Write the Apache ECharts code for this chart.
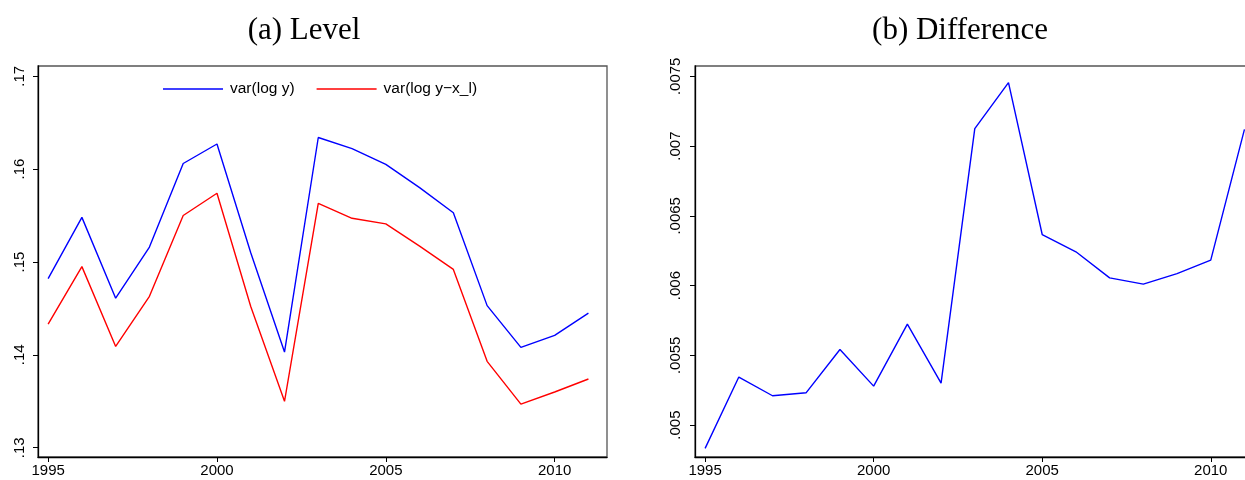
<!DOCTYPE html>
<html>
<head>
<meta charset="utf-8">
<script src="https://cdn.jsdelivr.net/npm/echarts@6/dist/echarts.min.js"></script>
<style>
html,body{margin:0;padding:0;overflow:hidden;background:#fff;}
#chart{width:1270px;height:480px;}
</style>
</head>
<body>
<div id="chart"></div>
<script>
// Data
const years = [1995,1996,1997,1998,1999,2000,2001,2002,2003,2004,2005,2006,2007,2008,2009,2010,2011];
const varLogY = [0.1482,0.1548,0.1461,0.1516,0.1606,0.1627,0.1510,0.1403,0.1634,0.1622,0.1605,0.1580,0.1553,0.1453,0.1408,0.1421,0.1445];
const varLogYxl = [0.1433,0.1495,0.1409,0.1463,0.1550,0.1574,0.1452,0.1350,0.1563,0.1547,0.1541,0.1517,0.1492,0.1393,0.1347,0.1360,0.1374];
const diff = [0.004833,0.005344,0.005210,0.005232,0.005542,0.005279,0.005724,0.005301,0.007125,0.007455,0.006366,0.006242,0.006055,0.006010,0.006086,0.006182,0.007120];
const xTicks = [1995,2000,2005,2010];
const yTicksLevel = [0.13,0.14,0.15,0.16,0.17];
const yTicksDiff = [0.005,0.0055,0.006,0.0065,0.007,0.0075];
const titles = ['(a) Level','(b) Difference'];
const seriesNames = ['var(log y)','var(log y\u2212x_l)'];

const pair = (xs, ys) => xs.map((x,i)=>[x, ys[i]]);
const fmtY = v => String(v).replace(/^0\./,'.');

const labelFont = {fontFamily:'Liberation Sans, Arial, sans-serif', fontSize:15, color:'#000'};

function xAxis(gi){
  return {
    type:'value', gridIndex:gi, min:1994.7, max:2011.55,
    splitLine:{show:false},
    axisLine:{show:true, onZero:false, lineStyle:{color:'#000', width:1.3}},
    axisTick:{show:true, length:5, customValues:xTicks, lineStyle:{color:'#000', width:1}},
    axisLabel:Object.assign({customValues:xTicks, margin:6, formatter:v=>String(v)}, labelFont)
  };
}
function yAxis(gi, min, max, ticks, margin){
  return {
    type:'value', gridIndex:gi, min:min, max:max,
    splitLine:{show:false},
    axisLine:{show:true, onZero:false, lineStyle:{color:'#000', width:1.3}},
    axisTick:{show:true, length:5, customValues:ticks, lineStyle:{color:'#000', width:1}},
    axisLabel:Object.assign({customValues:ticks, rotate:90, margin:margin, formatter:fmtY}, labelFont)
  };
}

const chart = echarts.init(document.getElementById('chart'), null, {renderer:'canvas'});
chart.setOption({
  animation:false,
  backgroundColor:'#fff',
  graphic:[
    {type:'text', x:304, y:31, style:{text:titles[0], font:'31px "Liberation Serif", serif', fill:'#000', textAlign:'center', textVerticalAlign:'middle'}},
    {type:'text', x:960, y:31, style:{text:titles[1], font:'31px "Liberation Serif", serif', fill:'#000', textAlign:'center', textVerticalAlign:'middle'}}
  ],
  legend:{
    left:158, top:76, orient:'horizontal',
    icon:'rect', itemWidth:60, itemHeight:1.6, itemGap:22,
    data:seriesNames,
    textStyle:{fontFamily:'Liberation Sans, Arial, sans-serif', fontSize:15.5, color:'#000', padding:[0,0,0,2]}
  },
  grid:[
    {left:38, top:66, width:569, height:391, show:true, borderColor:'#555', borderWidth:1.3, backgroundColor:'#fff', containLabel:false},
    {left:695, top:66, width:568, height:391, show:true, borderColor:'#555', borderWidth:1.3, backgroundColor:'#fff', containLabel:false}
  ],
  xAxis:[xAxis(0), xAxis(1)],
  yAxis:[yAxis(0, 0.1290, 0.1711, yTicksLevel, 11), yAxis(1, 0.004771, 0.007574, yTicksDiff, 12)],
  series:[
    {name:seriesNames[0], type:'line', xAxisIndex:0, yAxisIndex:0, data:pair(years,varLogY), showSymbol:false, symbol:'none', color:'#0000ff', lineStyle:{color:'#0000ff', width:1.4}},
    {name:seriesNames[1], type:'line', xAxisIndex:0, yAxisIndex:0, data:pair(years,varLogYxl), showSymbol:false, symbol:'none', color:'#ff0000', lineStyle:{color:'#ff0000', width:1.4}},
    {name:'difference', type:'line', xAxisIndex:1, yAxisIndex:1, data:pair(years,diff), showSymbol:false, symbol:'none', color:'#0000ff', lineStyle:{color:'#0000ff', width:1.4}}
  ]
});
</script>
</body>
</html>
